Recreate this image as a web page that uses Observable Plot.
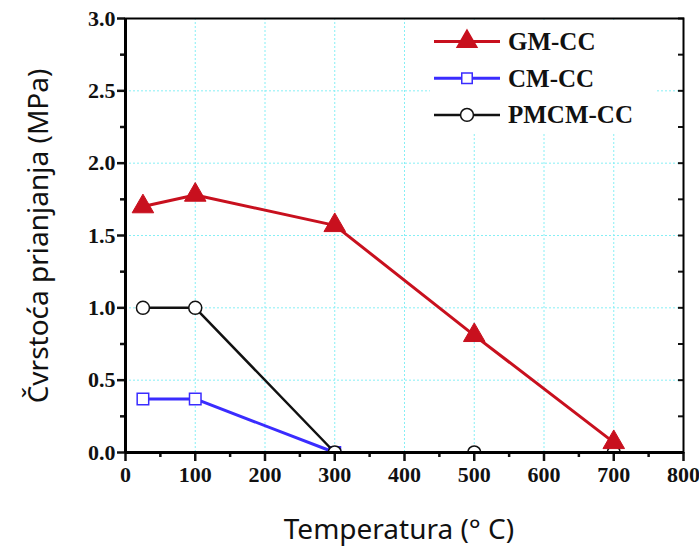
<!DOCTYPE html>
<html>
<head>
<meta charset="utf-8">
<script src="https://cdn.jsdelivr.net/npm/d3@7"></script>
<script src="https://cdn.jsdelivr.net/npm/@observablehq/plot@0.6"></script>
<style>
  html, body { margin: 0; padding: 0; background: #fff; }
</style>
</head>
<body>
<div id="chart"></div>
<script>
// Data
const seriesNames = ["GM-CC", "CM-CC", "PMCM-CC"];
const gmTemps = [25, 100, 300, 500, 700];
const gmValues = [1.70, 1.78, 1.57, 0.81, 0.07];
const cmTemps = [25, 100, 300];
const cmValues = [0.37, 0.37, 0.0];
const pmTemps = [25, 100, 300, 500, 700];
const pmValues = [1.0, 1.0, 0.0, 0.0, 0.0];
const xTicks = [0, 100, 200, 300, 400, 500, 600, 700, 800];
const yTicks = [0, 0.5, 1.0, 1.5, 2.0, 2.5, 3.0];
const xMinor = [50, 150, 250, 350, 450, 550, 650, 750];
const yMinor = [0.25, 0.75, 1.25, 1.75, 2.25, 2.75];
const yQuarter = [0, 0.25, 0.5, 0.75, 1.0, 1.25, 1.5, 1.75, 2.0, 2.25, 2.5, 2.75, 3.0];

const colors = {"GM-CC": "#c8101e", "CM-CC": "#3a2cff", "PMCM-CC": "#111111"};

const gm = gmTemps.map((t, i) => ({t, v: gmValues[i]}));
const cm = cmTemps.map((t, i) => ({t, v: cmValues[i]}));
const pm = pmTemps.map((t, i) => ({t, v: pmValues[i]}));

const serif = "'Liberation Serif', 'Times New Roman', serif";
const sans = "'Noto Sans', 'Open Sans', sans-serif";
const gridColor = "#86eff5";

const plot = Plot.plot({
  width: 699,
  height: 548,
  marginLeft: 125,
  marginRight: 16,
  marginTop: 18,
  marginBottom: 96,
  style: {fontFamily: serif, fontSize: "22px", fontWeight: "bold", color: "#111", background: "#fff"},
  x: {domain: [0, 800], label: null},
  y: {domain: [0, 3], label: null},
  marks: [
    Plot.gridX(xTicks, {stroke: gridColor, strokeOpacity: 1, strokeDasharray: "2,2", strokeWidth: 1}),
    Plot.gridY(yTicks, {stroke: gridColor, strokeOpacity: 1, strokeDasharray: "2,2", strokeWidth: 1}),
    Plot.axisY({ticks: yTicks, tickFormat: d => d.toFixed(1), tickSize: 8, tickPadding: 2, strokeWidth: 2.5, fontSize: 22, fontWeight: "bold", fontFamily: serif, label: null}),
    Plot.axisY({ticks: yMinor, tickFormat: () => "", tickSize: 5, strokeWidth: 2.5, label: null}),
    Plot.axisY({anchor: "right", ticks: yQuarter, tickFormat: () => "", tickSize: -6, strokeWidth: 2, label: null}),
    Plot.axisX({ticks: xTicks, tickSize: 9, tickPadding: 5, strokeWidth: 2.5, fontSize: 22, fontWeight: "bold", fontFamily: serif, label: null}),
    Plot.axisX({ticks: xMinor, tickFormat: () => "", tickSize: 5, strokeWidth: 2.5, label: null}),
    Plot.line(cm, {x: "t", y: "v", stroke: colors["CM-CC"], strokeWidth: 3}),
    Plot.dot(cm, {x: "t", y: "v", symbol: "square", r: 6.5, stroke: colors["CM-CC"], fill: "#fff", strokeWidth: 1.5, clip: true}),
    Plot.line(pm, {x: "t", y: "v", stroke: colors["PMCM-CC"], strokeWidth: 2.5}),
    Plot.dot(pm, {x: "t", y: "v", symbol: "circle", r: 6.5, stroke: colors["PMCM-CC"], fill: "#fff", strokeWidth: 1.5, clip: true}),
    Plot.line(gm, {x: "t", y: "v", stroke: colors["GM-CC"], strokeWidth: 3}),
    Plot.dot(gm, {x: "t", y: "v", symbol: "triangle", r: 8, fill: colors["GM-CC"], stroke: colors["GM-CC"], strokeWidth: 1}),
    Plot.frame({stroke: "#000", strokeWidth: 2}),
    Plot.ruleX([0], {stroke: "#000", strokeWidth: 3}),
    Plot.ruleY([0], {stroke: "#000", strokeWidth: 3})
  ]
});

const svg = d3.select(plot);

// Legend (white box over the grid, top-right inside the plot)
const lg = svg.append("g");
lg.append("rect").attr("x", 430).attr("y", 20).attr("width", 227).attr("height", 112).attr("fill", "#fff");
const legendSymbols = {"GM-CC": d3.symbolTriangle, "CM-CC": d3.symbolSquare, "PMCM-CC": d3.symbolCircle};
seriesNames.forEach((name, i) => {
  const y = 41.5 + i * 36.7;
  const g = lg.append("g").attr("transform", `translate(0,${y})`);
  g.append("line").attr("x1", 434).attr("x2", 500).attr("y1", 0).attr("y2", 0)
    .attr("stroke", colors[name]).attr("stroke-width", name === "PMCM-CC" ? 2.5 : 3);
  const filled = name === "GM-CC";
  const size = name === "GM-CC" ? 170 : (name === "CM-CC" ? 110 : 130);
  g.append("path").attr("d", d3.symbol(legendSymbols[name], size)())
    .attr("transform", "translate(467,0)")
    .attr("fill", filled ? colors[name] : "#fff")
    .attr("stroke", colors[name]).attr("stroke-width", 1.5);
  g.append("text").attr("x", 508).attr("y", 0).attr("dy", "0.34em")
    .attr("text-anchor", "start")
    .attr("font-family", serif).attr("font-weight", "bold").attr("font-size", 25)
    .attr("fill", "#111").text(name);
});

// Axis titles
svg.append("text").attr("x", 399).attr("y", 539).attr("text-anchor", "middle")
  .attr("font-family", sans).attr("font-weight", "normal").attr("font-size", 28).attr("fill", "#111")
  .text("Temperatura (° C)");
svg.append("text").attr("transform", "translate(48,236) rotate(-90)").attr("text-anchor", "middle")
  .attr("font-family", sans).attr("font-weight", "normal").attr("font-size", 28).attr("fill", "#111")
  .text("Čvrstoća prianjanja (MPa)");

document.getElementById("chart").appendChild(plot);
</script>
</body>
</html>
